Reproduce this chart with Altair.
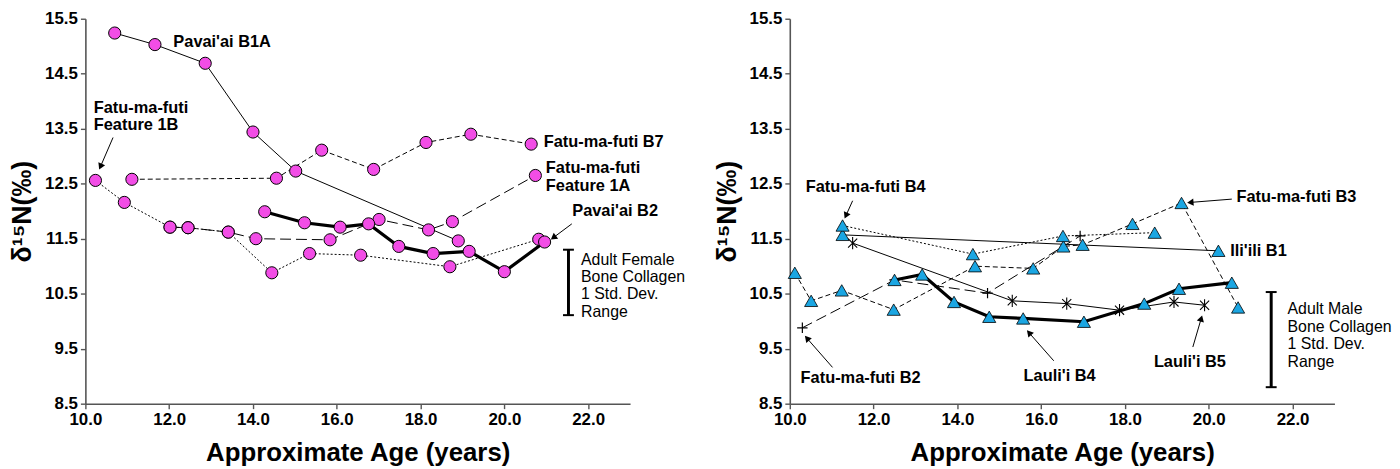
"""Serial bone-collagen d15N profiles against approximate age: female burials (left panel,
pink circles) and male burials (right panel, blue triangles), as two Altair panels side by side.
"""
import math

import altair as alt
import pandas as pd

FONT = "Liberation Sans"
PINK = "#f24de6"
BLUE = "#1ba6e2"
AXIS_GREY = "#555555"

X_DOMAIN = [10, 23]
Y_DOMAIN = [8.5, 15.5]
X_TICKS = [10, 12, 14, 16, 18, 20, 22]
Y_TICKS = [8.5, 9.5, 10.5, 11.5, 12.5, 13.5, 14.5, 15.5]

W, H = 549, 388   # plot area of each panel

# ---- left panel: females -------------------------------------------------------------------
B1A_AGE = [10.70, 11.66, 12.86, 14.00, 15.02, 18.90]
B1A_N = [15.24, 15.03, 14.69, 13.44, 12.73, 11.46]

B7_AGE = [11.11, 14.56, 15.64, 16.88, 18.13, 19.20, 20.64]
B7_N = [12.58, 12.60, 13.11, 12.76, 13.25, 13.40, 13.22]

F1B_AGE = [10.24, 10.93, 12.02, 12.45, 13.41, 14.45, 15.35, 16.57, 18.70, 20.82]
F1B_N = [12.56, 12.16, 11.71, 11.70, 11.62, 10.88, 11.23, 11.20, 10.99, 11.49]

F1A_AGE = [12.02, 12.45, 13.41, 14.07, 15.84, 17.01, 18.19, 18.76, 20.74]
F1A_N = [11.71, 11.70, 11.62, 11.50, 11.48, 11.85, 11.66, 11.81, 12.65]

PB2_AGE = [14.28, 15.23, 16.08, 16.76, 17.48, 18.30, 19.16, 20.00, 20.96]
PB2_N = [11.99, 11.79, 11.71, 11.77, 11.36, 11.23, 11.27, 10.90, 11.44]

# ---- right panel: males ----------------------------------------------------------------------
ILI_AGE = [11.26, 20.23]
ILI_N = [11.57, 11.28]

FB3_AGE = [10.12, 10.51, 11.24, 12.48, 14.42, 15.81, 16.53, 16.99, 18.18, 19.35, 20.70]
FB3_N = [10.88, 10.37, 10.56, 10.21, 11.00, 10.96, 11.36, 11.39, 11.77, 12.15, 10.25]

FB4_AGE = [11.26, 14.37, 16.52, 18.71]
FB4_N = [11.74, 11.22, 11.55, 11.61]

FB2_AGE = [10.30, 12.50, 14.72, 16.93]
FB2_N = [9.88, 10.75, 10.51, 11.55]

LB4_AGE = [12.50, 13.16, 13.92, 14.76, 15.57, 17.02, 18.46, 19.29, 20.55]
LB4_N = [10.75, 10.85, 10.35, 10.08, 10.05, 9.99, 10.32, 10.59, 10.70]

LB5_AGE = [11.50, 15.31, 16.61, 17.87, 19.17, 19.90]
LB5_N = [11.42, 10.37, 10.32, 10.20, 10.35, 10.29]

# line looks: (dash pattern, stroke width)
LINES = {
    "solid": ([], 1),
    "thick": ([], 3.2),
    "dash": ([5, 3], 1),
    "long": ([11, 5], 1),
    "dot": ([2, 2], 1),
}

MARKERS = {
    "circle": dict(shape="circle", filled=True, fill=PINK, stroke="black", strokeWidth=1, size=150),
    "triangle": dict(shape="triangle-up", filled=True, fill=BLUE, stroke="black", strokeWidth=0.8, size=175),
    "plus": dict(shape="M-1,0L1,0M0,-1L0,1", filled=False, stroke="black", strokeWidth=1.2, size=110),
    "star": dict(shape="M-0.75,-0.75L0.75,0.75M-0.75,0.75L0.75,-0.75M0,-1L0,1", filled=False,
                 stroke="black", strokeWidth=1.1, size=150),
}

LEFT_SERIES = [
    (B1A_AGE, B1A_N, "solid", "circle"),
    (B7_AGE, B7_N, "dash", "circle"),
    (F1B_AGE, F1B_N, "dot", "circle"),
    (F1A_AGE, F1A_N, "long", "circle"),
    (PB2_AGE, PB2_N, "thick", "circle"),
]
RIGHT_SERIES = [
    (FB2_AGE, FB2_N, "long", "plus"),
    (ILI_AGE, ILI_N, "solid", "triangle"),
    (FB3_AGE, FB3_N, "dash", "triangle"),
    (FB4_AGE, FB4_N, "dot", "triangle"),
    (LB5_AGE, LB5_N, "solid", "star"),
    (LB4_AGE, LB4_N, "thick", "triangle"),
]

# annotations: (text, age, d15n, align)
LEFT_LABELS = [
    ("Pavai'ai B1A", 12.10, 15.07, "left"),
    ("Fatu-ma-futi", 10.20, 13.88, "left"),
    ("Feature 1B", 10.20, 13.56, "left"),
    ("Fatu-ma-futi B7", 20.94, 13.26, "left"),
    ("Fatu-ma-futi", 20.99, 12.78, "left"),
    ("Feature 1A", 20.99, 12.46, "left"),
    ("Pavai'ai B2", 21.62, 12.01, "left"),
]
LEFT_ARROWS = [(10.66, 13.34, 10.36, 12.81), (21.61, 11.77, 21.17, 11.52)]
LEFT_RANGE = (21.53, 10.11, 11.30)
LEFT_RANGE_TEXT = ["Adult Female", "Bone Collagen", "1 Std. Dev.", "Range"]
LEFT_RANGE_TEXT_POS = (21.83, [11.12, 10.80, 10.50, 10.17])

RIGHT_LABELS = [
    ("Fatu-ma-futi B4", 11.81, 12.44, "center"),
    ("Fatu-ma-futi B3", 20.66, 12.25, "left"),
    ("Ili'ili B1", 20.51, 11.28, "left"),
    ("Lauli'i B4", 16.44, 9.01, "center"),
    ("Lauli'i B5", 19.55, 9.25, "center"),
    ("Fatu-ma-futi B2", 11.69, 8.97, "center"),
]
RIGHT_ARROWS = [
    (11.50, 12.19, 11.34, 11.92),
    (20.55, 12.22, 19.56, 12.16),
    (16.30, 9.28, 15.71, 9.79),
    (19.62, 9.53, 19.82, 10.05),
    (11.02, 9.16, 10.41, 9.69),
]
RIGHT_RANGE = (21.49, 8.80, 10.53)
RIGHT_RANGE_TEXT = ["Adult Male", "Bone Collagen", "1 Std. Dev.", "Range"]
RIGHT_RANGE_TEXT_POS = (21.88, [10.23, 9.90, 9.59, 9.25])


def x_enc(field="age"):
    return alt.X(f"{field}:Q", title="Approximate Age (years)",
                 scale=alt.Scale(domain=X_DOMAIN, nice=False, zero=False),
                 axis=alt.Axis(values=X_TICKS, format=".1f", labelFlush=False))


def y_enc(field="d15n"):
    return alt.Y(f"{field}:Q", title="δ¹⁵N(‰)",
                 scale=alt.Scale(domain=Y_DOMAIN, nice=False, zero=False),
                 axis=alt.Axis(values=Y_TICKS, format=".1f"))


def series_frame(ages, values):
    return pd.DataFrame({"age": ages, "d15n": values})


def line_layer(ages, values, look):
    dash, width = LINES[look]
    mark = dict(color="black", strokeWidth=width)
    if dash:
        mark["strokeDash"] = dash
    return alt.Chart(series_frame(ages, values)).mark_line(**mark).encode(x=x_enc(), y=y_enc())


def marker_layer(ages, values, marker):
    return (alt.Chart(series_frame(ages, values))
            .mark_point(opacity=1, **MARKERS[marker])
            .encode(x=x_enc(), y=y_enc()))


def label_layers(labels, bold=True, size=16.5):
    out = []
    for align in ("left", "center"):
        rows = [(t, a, v) for t, a, v, al in labels if al == align]
        if not rows:
            continue
        df = pd.DataFrame(rows, columns=["text", "age", "d15n"])
        out.append(alt.Chart(df).mark_text(align=align, baseline="middle", font=FONT, fontSize=size,
                                           fontWeight="bold" if bold else "normal", color="black")
                   .encode(x=x_enc(), y=y_enc(), text="text:N"))
    return out


def arrow_layers(arrows):
    df = pd.DataFrame(arrows, columns=["age", "d15n", "age2", "d15n2"])
    # heading in screen pixels, so the arrow head points along the shaft
    dx = (df["age2"] - df["age"]) * W / (X_DOMAIN[1] - X_DOMAIN[0])
    dy = -(df["d15n2"] - df["d15n"]) * H / (Y_DOMAIN[1] - Y_DOMAIN[0])
    df["angle"] = [math.degrees(math.atan2(a, -b)) % 360 for a, b in zip(dx, dy)]
    shaft = alt.Chart(df).mark_rule(color="black", strokeWidth=1).encode(
        x=x_enc(), y=y_enc(), x2="age2:Q", y2="d15n2:Q")
    head = alt.Chart(df).mark_point(shape="triangle-up", filled=True, color="black", size=55, opacity=1).encode(
        x=x_enc("age2"), y=y_enc("d15n2"), angle=alt.Angle("angle:Q", scale=None))
    return [shaft, head]


def range_layers(rng, lines, pos):
    age, lo, hi = rng
    bar = pd.DataFrame({"age": [age], "d15n": [lo], "d15n2": [hi]})
    caps = pd.DataFrame({"age": [age - 0.13, age - 0.13], "age2": [age + 0.13, age + 0.13],
                         "d15n": [lo, hi]})
    text_x, text_y = pos
    text = [(t, text_x, v, "left") for t, v in zip(lines, text_y)]
    return [
        alt.Chart(bar).mark_rule(color="black", strokeWidth=3).encode(x=x_enc(), y=y_enc(), y2="d15n2:Q"),
        alt.Chart(caps).mark_rule(color="black", strokeWidth=2).encode(x=x_enc(), x2="age2:Q", y=y_enc()),
    ] + label_layers(text, bold=False, size=16)


def panel(series, labels, arrows, rng, rng_text, rng_pos):
    layers = [line_layer(a, v, look) for a, v, look, _ in series]
    layers += [marker_layer(a, v, m) for a, v, _, m in series]
    layers += arrow_layers(arrows) + label_layers(labels) + range_layers(rng, rng_text, rng_pos)
    return alt.layer(*layers).properties(width=W, height=H)


left = panel(LEFT_SERIES, LEFT_LABELS, LEFT_ARROWS, LEFT_RANGE, LEFT_RANGE_TEXT, LEFT_RANGE_TEXT_POS)
right = panel(RIGHT_SERIES, RIGHT_LABELS, RIGHT_ARROWS, RIGHT_RANGE, RIGHT_RANGE_TEXT, RIGHT_RANGE_TEXT_POS)

chart = (
    alt.hconcat(left, right, spacing=161, bounds="flush")
    .properties(padding={"left": 0, "top": 0, "right": 0, "bottom": 0}, background="white")
    .configure_view(stroke=None)
    .configure_axis(grid=False, domainColor=AXIS_GREY, domainWidth=1.6, tickColor=AXIS_GREY,
                    tickWidth=1.4, tickSize=5, labelFont=FONT, labelFontSize=17, labelFontWeight="bold",
                    labelColor="black", labelPadding=3, titleFont=FONT, titleFontWeight="bold",
                    titleColor="black")
    .configure_axisX(titleFontSize=26, titlePadding=12)
    .configure_axisY(titleFontSize=27, titlePadding=8)
)

chart.save("out.html", embed_options={"renderer": "svg", "actions": False})
